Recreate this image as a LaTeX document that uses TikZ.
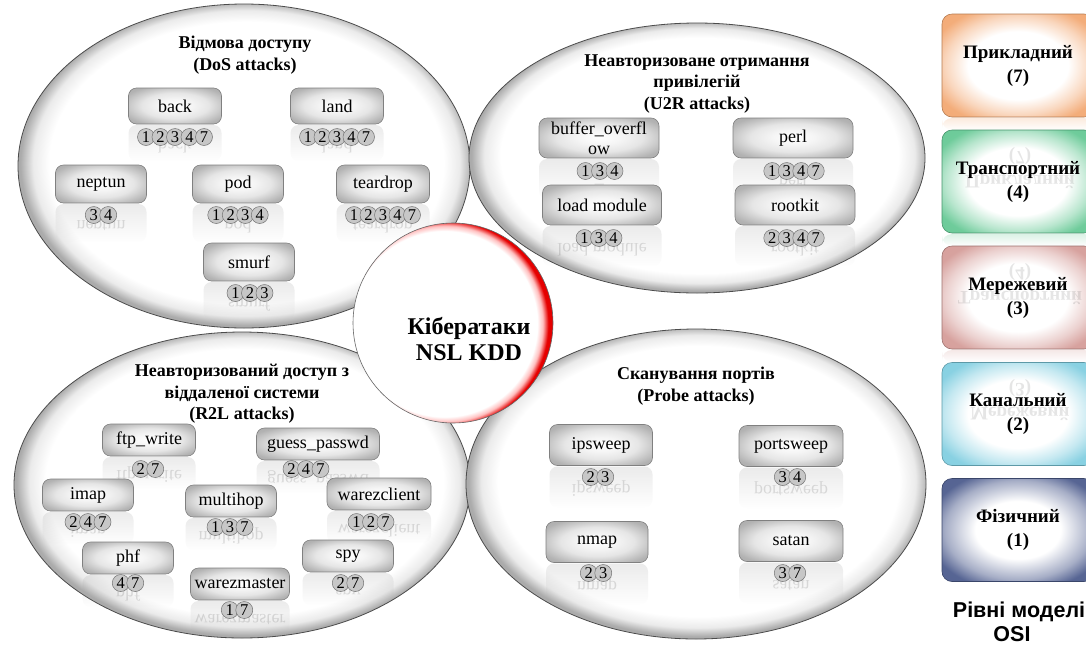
\documentclass[tikz,border=0pt]{standalone}
\usepackage{fontspec}
\setmainfont{Liberation Serif}
\newfontfamily\capfont{Liberation Sans}
\usetikzlibrary{fadings,shapes.geometric}

% OSI layer colours
\definecolor{osiA}{HTML}{F2A46C}
\definecolor{osiB}{HTML}{5FC690}
\definecolor{osiC}{HTML}{D39894}
\definecolor{osiD}{HTML}{7CCCDF}
\definecolor{osiE}{HTML}{4E5D8E}

% inner-glow shadings (the middle of each bounding-box side sits at 25bp)
\pgfdeclareradialshading{ovalglow}{\pgfpoint{0.5bp}{0.8bp}}{color(0bp)=(white); color(21.8bp)=(white); color(23.6bp)=(black!8); color(25bp)=(black!33); color(50bp)=(black!33)}
\pgfdeclareradialshading{hubglow}{\pgfpoint{-4bp}{-0.4bp}}{color(0bp)=(white); color(23.2bp)=(white); color(24.5bp)=(red!25); color(25.8bp)=(red!90!black); color(50bp)=(red!90!black)}
\pgfdeclareradialshading{atkglow}{\pgfpoint{0.3bp}{0.8bp}}{color(0bp)=(white); color(9bp)=(black!4); color(18bp)=(black!10); color(30bp)=(black!30); color(50bp)=(black!40)}
\pgfdeclareradialshading{osiAglow}{\pgfpoint{0bp}{0bp}}{color(0bp)=(white); color(16.5bp)=(white); color(24bp)=(osiA!45); color(30bp)=(osiA!90); color(50bp)=(osiA)}
\pgfdeclareradialshading{osiBglow}{\pgfpoint{0bp}{0bp}}{color(0bp)=(white); color(16.5bp)=(white); color(24bp)=(osiB!45); color(30bp)=(osiB!90); color(50bp)=(osiB)}
\pgfdeclareradialshading{osiCglow}{\pgfpoint{0bp}{0bp}}{color(0bp)=(white); color(16.5bp)=(white); color(24bp)=(osiC!45); color(30bp)=(osiC!90); color(50bp)=(osiC)}
\pgfdeclareradialshading{osiDglow}{\pgfpoint{0bp}{0bp}}{color(0bp)=(white); color(16.5bp)=(white); color(24bp)=(osiD!45); color(30bp)=(osiD!90); color(50bp)=(osiD)}
\pgfdeclareradialshading{osiEglow}{\pgfpoint{0bp}{0bp}}{color(0bp)=(white); color(14bp)=(white); color(24bp)=(osiE!50); color(30bp)=(osiE!95); color(50bp)=(osiE)}

\tikzfading[name=reflfade, top color=transparent!78, bottom color=transparent!100]

\newcommand\atkfont{\fontsize{18}{20}\selectfont}
\newcommand\numfont{\fontsize{16.5}{17}\selectfont}
\newcommand\ttlfont{\fontsize{18}{21.5}\selectfont\bfseries}
\newcommand\osifont{\fontsize{19}{24}\selectfont\bfseries}
\newcommand\hubfont{\fontsize{24}{26}\selectfont\bfseries}

% attack box with its faded mirror image below
% #1 name, #2 x, #3 y, #4 width, #5 height, #6 label
\newcommand\attack[6]{%
  \fill[black!35, path fading=reflfade, rounded corners=8pt]
    (#2-#4/2,#3+#5/2+1) rectangle (#2+#4/2,#3+#5/2+1+#5);
  \node[opacity=0.12, font=\atkfont, inner sep=0pt] (#1-mirror) at (#2,#3+#5+2)
    {\scalebox{1}[-1]{\begin{tabular}{@{}c@{}}#6\end{tabular}}};
  \node[atk, minimum width=#4, minimum height=#5] (#1) at (#2,#3) {#6};
}
% row of OSI level badges: #1 name, #2 x, #3 y, #4 count, #5 digits
\newcommand\lvlrow[5]{%
  \foreach \dd [count=\ii from 0] in {#5}
    \node[lvl] (#1-\dd) at ({#2+(\ii-(#4-1)/2)*14.5},#3) {\dd};
}
% mirror image of an OSI box: #1 name, #2 bottom y, #3 colour, #4 label
\newcommand\osirefl[4]{%
  \fill[#3, path fading=reflfade, rounded corners=10pt]
    (942,#2+1) rectangle (1094,#2+13);
  \node[opacity=0.1, font=\osifont, inner sep=0pt] (#1-mirror) at (1020,#2+51)
    {\scalebox{1}[-1]{\begin{tabular}{@{}c@{}}#4\end{tabular}}};
}

\begin{document}
\begin{tikzpicture}[x=1pt,y=-1pt,
  oval/.style={ellipse, draw=black!70, line width=0.8pt, shading=ovalglow, inner sep=0pt},
  hub/.style={circle, draw=black!60, line width=0.6pt, shading=hubglow, minimum size=200pt, inner sep=0pt},
  atk/.style={draw=black!50, line width=0.6pt, rounded corners=8pt, shading=atkglow, inner sep=0pt, font=\atkfont, align=center},
  lvl/.style={circle, draw=black!55, line width=0.5pt, fill=black!22, minimum size=17pt, inner sep=0pt, font=\numfont},
  ttl/.style={font=\ttlfont, align=center, inner sep=0pt},
  osi/.style={draw=#1!75!black, line width=0.6pt, rounded corners=10pt, shading=#1glow, minimum width=152pt, minimum height=103pt, inner sep=0pt, font=\osifont, align=center},
]
\fill[white] (0,0) rectangle (1086,646);
\useasboundingbox (0,0) rectangle (1086,646);

% four attack groups
\node[oval, minimum width=452pt, minimum height=324pt] (dos) at (244,166) {};
\node[oval, minimum width=456pt, minimum height=270pt] (u2r) at (697,158) {};
\node[oval, minimum width=456pt, minimum height=306pt] (r2l) at (242,485) {};
\node[oval, minimum width=460pt, minimum height=310pt] (probe) at (696,484) {};

\node[ttl] (dos-title) at (245,55) {Відмова доступу\\(DoS attacks)};
\node[ttl] (u2r-title) at (697,84) {Неавторизоване отримання\\привілегій\\(U2R attacks)};
\node[ttl] (r2l-title) at (242,394) {Неавторизований доступ з\\віддаленої системи\\(R2L attacks)};
\node[ttl] (probe-title) at (696,386) {Сканування портів\\(Probe attacks)};

% DoS
\attack{back}{175}{106}{93}{36}{back}
\lvlrow{back}{175}{137}{5}{1,2,3,4,7}
\attack{land}{337}{106}{93}{36}{land}
\lvlrow{land}{337}{137}{5}{1,2,3,4,7}
\attack{neptun}{101}{184}{91}{38}{neptun}
\lvlrow{neptun}{101}{215}{2}{3,4}
\attack{pod}{238}{184}{91}{38}{pod}
\lvlrow{pod}{238}{215}{4}{1,2,3,4}
\attack{teardrop}{383}{184}{93}{38}{teardrop}
\lvlrow{teardrop}{383}{215}{5}{1,2,3,4,7}
\attack{smurf}{249}{262}{91}{38}{smurf}
\lvlrow{smurf}{250}{293}{3}{1,2,3}

% U2R
\attack{bof}{599}{138}{120}{40}{buffer\_overfl\\ow}
\lvlrow{bof}{600}{171}{3}{1,3,4}
\attack{perl}{793}{138}{120}{40}{perl}
\lvlrow{perl}{794}{171}{4}{1,3,4,7}
\attack{loadmod}{602}{205}{119}{40}{load module}
\lvlrow{loadmod}{599}{238}{3}{1,3,4}
\attack{rootkit}{795}{205}{120}{40}{rootkit}
\lvlrow{rootkit}{794}{238}{4}{2,3,4,7}

% R2L
\attack{ftpw}{149}{440}{93}{32}{ftp\_write}
\lvlrow{ftpw}{148}{469}{2}{2,7}
\attack{guess}{318}{444}{123}{32}{guess\_passwd}
\lvlrow{guess}{306}{469}{3}{2,4,7}
\attack{imap}{88}{495}{91}{32}{imap}
\lvlrow{imap}{88}{522}{3}{2,4,7}
\attack{multihop}{231}{501}{91}{32}{multihop}
\lvlrow{multihop}{230}{527}{3}{1,3,7}
\attack{wclient}{379}{494}{104}{32}{warezclient}
\lvlrow{wclient}{371}{522}{3}{1,2,7}
\attack{phf}{128}{558}{91}{32}{phf}
\lvlrow{phf}{128}{583}{2}{4,7}
\attack{wmaster}{240}{584}{99}{32}{warezmaster}
\lvlrow{wmaster}{237}{610}{2}{1,7}
\attack{spy}{348}{556}{91}{32}{spy}
\lvlrow{spy}{348}{583}{2}{2,7}

% Probe
\attack{ipsweep}{601}{445}{103}{41}{ipsweep}
\lvlrow{ipsweep}{598}{477}{2}{2,3}
\attack{portsweep}{791}{446}{104}{41}{portsweep}
\lvlrow{portsweep}{790}{477}{2}{3,4}
\attack{nmap}{597}{542}{102}{41}{nmap}
\lvlrow{nmap}{596}{573}{2}{2,3}
\attack{satan}{791}{541}{104}{41}{satan}
\lvlrow{satan}{790}{573}{2}{3,7}

% centre
\node[hub] (hub) at (453,323) {};
\node[font=\hubfont, align=center, inner sep=0pt] (hub-label) at (469,339) {Кібератаки\\NSL KDD};

% OSI layers
\node[osi=osiA] (l7) at (1018,65.5) {Прикладний\\(7)};
\node[osi=osiB] (l4) at (1018,181.5) {Транспортний\\(4)};
\node[osi=osiC] (l3) at (1018,297.5) {Мережевий\\(3)};
\node[osi=osiD] (l2) at (1018,414) {Канальний\\(2)};
\node[osi=osiE] (l1) at (1018,530) {Фізичний\\(1)};
\osirefl{l7}{117}{osiA}{Прикладний\\(7)}
\osirefl{l4}{233}{osiB}{Транспортний\\(4)}
\osirefl{l3}{349}{osiC}{Мережевий\\(3)}

\node[font=\capfont\bfseries\fontsize{21.5}{24}\selectfont, anchor=base, inner sep=0pt] (osi-caption) at (1019,617) {Рівні моделі};
\node[font=\capfont\bfseries\fontsize{21.5}{24}\selectfont, anchor=base, inner sep=0pt] (osi-caption-2) at (1012,641) {OSI};
\end{tikzpicture}
\end{document}
